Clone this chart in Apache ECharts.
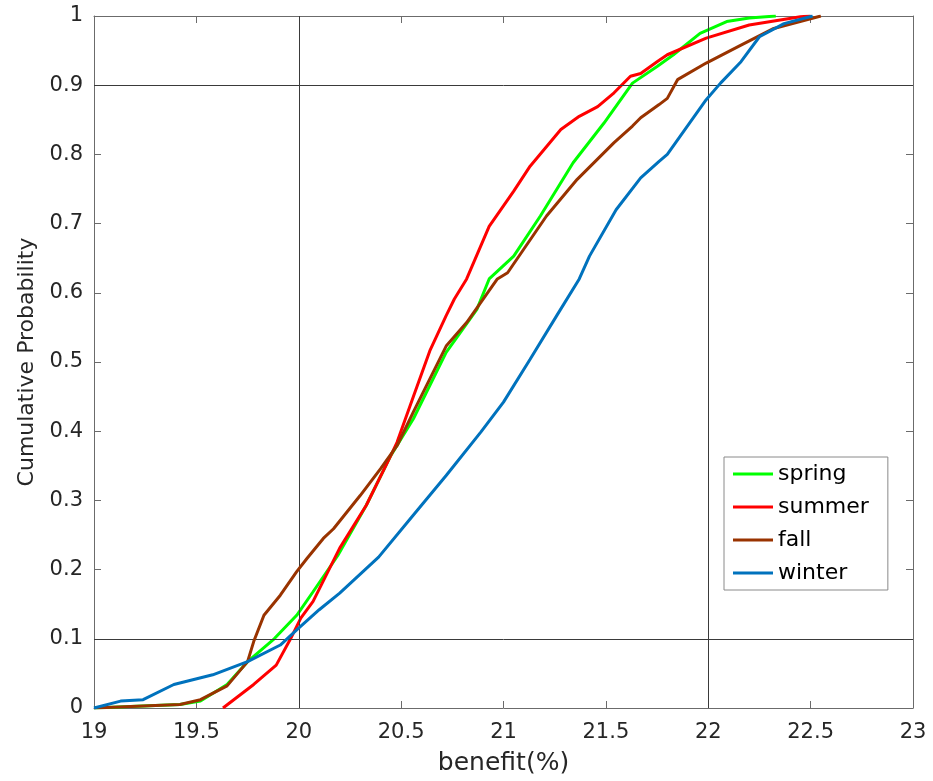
<!DOCTYPE html>
<html>
<head>
<meta charset="utf-8">
<script src="https://cdn.jsdelivr.net/npm/echarts@6/dist/echarts.min.js"></script>
<style>
html,body{margin:0;padding:0;background:#fff;}
#chart{width:933px;height:781px;}
</style>
</head>
<body>
<div id="chart"></div>
<script>
// Series data: [benefit(%), cumulative probability]
var seriesNames = ['spring', 'summer', 'fall', 'winter'];
var seriesColors = ['#00ff00', '#ff0000', '#993300', '#0072bd'];

var spring = [[19.0,0],[19.42,0.005],[19.52,0.01],[19.65,0.034],[19.75,0.067],[19.88,0.10],[19.99,0.134],[20.07,0.168],[20.19,0.22],[20.33,0.293],[20.45,0.365],[20.56,0.418],[20.72,0.514],[20.87,0.576],[20.93,0.62],[21.05,0.653],[21.18,0.711],[21.34,0.788],[21.49,0.845],[21.63,0.903],[21.75,0.927],[21.83,0.944],[21.96,0.975],[22.09,0.992],[22.2,0.997],[22.33,1.0]];

var summer = [[19.63,0],[19.78,0.034],[19.89,0.062],[19.96,0.10],[20.01,0.13],[20.07,0.154],[20.2,0.231],[20.33,0.293],[20.45,0.365],[20.48,0.384],[20.56,0.45],[20.64,0.516],[20.72,0.567],[20.76,0.591],[20.82,0.62],[20.93,0.696],[21.05,0.747],[21.13,0.783],[21.28,0.836],[21.37,0.855],[21.46,0.869],[21.54,0.889],[21.62,0.913],[21.67,0.917],[21.75,0.934],[21.8,0.944],[21.99,0.968],[22.2,0.987],[22.45,0.999],[22.5,1.0]];

var fall = [[19.0,0],[19.42,0.005],[19.52,0.012],[19.65,0.032],[19.75,0.067],[19.78,0.096],[19.83,0.134],[19.91,0.163],[19.99,0.197],[20.04,0.216],[20.12,0.245],[20.17,0.259],[20.3,0.307],[20.4,0.346],[20.48,0.379],[20.56,0.428],[20.72,0.523],[20.82,0.557],[20.97,0.62],[21.02,0.629],[21.21,0.711],[21.36,0.764],[21.54,0.817],[21.63,0.841],[21.67,0.853],[21.76,0.872],[21.8,0.881],[21.85,0.908],[21.99,0.932],[22.16,0.958],[22.32,0.982],[22.55,1.0]];

var winter = [[19.0,0],[19.13,0.01],[19.24,0.012],[19.39,0.034],[19.58,0.048],[19.75,0.067],[19.91,0.091],[19.99,0.113],[20.1,0.142],[20.2,0.166],[20.39,0.218],[20.56,0.279],[20.72,0.336],[20.89,0.399],[21.0,0.442],[21.13,0.504],[21.26,0.567],[21.37,0.62],[21.42,0.653],[21.55,0.72],[21.67,0.766],[21.76,0.79],[21.8,0.8],[21.99,0.879],[22.06,0.903],[22.16,0.934],[22.25,0.97],[22.37,0.989],[22.51,1.0]];

var refX = [20, 22];
var refY = [0.1, 0.9];

var xMin = 19, xMax = 23, xStep = 0.5;
var yMin = 0, yMax = 1, yStep = 0.1;
var xTitle = 'benefit(%)';
var yTitle = 'Cumulative Probability';

var allData = [spring, summer, fall, winter];
var FONT = 'DejaVu Sans';
var axisCol = '#6b6b6b';
var textCol = '#262626';

var grid = {left: 94, right: 20, top: 16, bottom: 71};

var series = [];
var markData = [];
refX.forEach(function(v){ markData.push({xAxis: v}); });
refY.forEach(function(v){ markData.push({yAxis: v}); });
series.push({
  name: 'ref', type: 'line', data: [], z: 1, silent: true,
  markLine: {
    silent: true, symbol: ['none','none'], label: {show: false},
    lineStyle: {color: '#3a3a3a', width: 1, type: 'solid'},
    animation: false,
    data: markData
  }
});
seriesNames.forEach(function(n, i){
  series.push({
    name: n, type: 'line', data: allData[i], showSymbol: false, symbol: 'none',
    z: 3 + i,
    lineStyle: {color: seriesColors[i], width: 3},
    itemStyle: {color: seriesColors[i]}
  });
});

var chart = echarts.init(document.getElementById('chart'), null, {renderer: 'canvas'});
chart.setOption({
  animation: false,
  backgroundColor: '#fff',
  grid: grid,
  legend: {
    data: seriesNames.map(function(n){ return {name: n, icon: 'rect'}; }),
    orient: 'vertical',
    left: 724, top: 457,
    itemWidth: 40, itemHeight: 3, itemGap: 11,
    padding: [6, 19, 6, 9],
    borderColor: '#8a8a8a', borderWidth: 1,
    backgroundColor: '#fff',
    textStyle: {fontFamily: FONT, fontSize: 22, color: '#000', lineHeight: 22}
  },
  xAxis: [{
    type: 'value', min: xMin, max: xMax, interval: xStep, position: 'bottom',
    name: xTitle, nameLocation: 'middle', nameGap: 43,
    nameTextStyle: {fontFamily: FONT, fontSize: 25, color: textCol},
    axisLine: {show: true, onZero: false, lineStyle: {color: axisCol, width: 1}},
    axisTick: {show: true, inside: true, length: 7, lineStyle: {color: axisCol}},
    axisLabel: {fontFamily: FONT, fontSize: 21, color: textCol, margin: 14},
    splitLine: {show: false}
  }, {
    type: 'value', min: xMin, max: xMax, interval: xStep, position: 'top',
    axisLine: {show: true, onZero: false, lineStyle: {color: axisCol, width: 1}},
    axisTick: {show: true, inside: true, length: 7, lineStyle: {color: axisCol}},
    axisLabel: {show: false}, splitLine: {show: false}
  }],
  yAxis: [{
    type: 'value', min: yMin, max: yMax, interval: yStep, position: 'left',
    name: yTitle, nameLocation: 'middle', nameGap: 55, nameRotate: 90,
    nameTextStyle: {fontFamily: FONT, fontSize: 22, color: textCol},
    axisLine: {show: true, onZero: false, lineStyle: {color: axisCol, width: 1}},
    axisTick: {show: true, inside: true, length: 7, lineStyle: {color: axisCol}},
    axisLabel: {fontFamily: FONT, fontSize: 21, color: textCol, margin: 11},
    splitLine: {show: false}
  }, {
    type: 'value', min: yMin, max: yMax, interval: yStep, position: 'right',
    axisLine: {show: true, onZero: false, lineStyle: {color: axisCol, width: 1}},
    axisTick: {show: true, inside: true, length: 7, lineStyle: {color: axisCol}},
    axisLabel: {show: false}, splitLine: {show: false}
  }],
  series: series
});
</script>
</body>
</html>
